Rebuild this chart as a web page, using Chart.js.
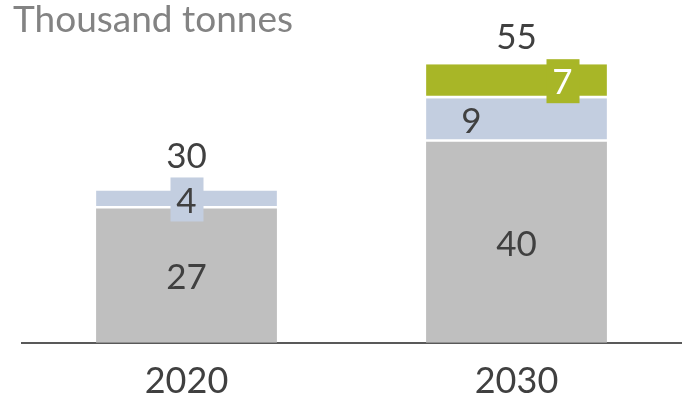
<!DOCTYPE html>
<html>
<head>
<meta charset="utf-8">
<script src="https://cdn.jsdelivr.net/npm/chart.js@4/dist/chart.umd.min.js"></script>
<style>
  body { margin: 0; background: #fff; }
  #wrap { width: 690px; height: 400px; position: relative; }
</style>
</head>
<body>
<div id="wrap"><canvas id="chart-tonnes-bar"></canvas></div>
<script>
// values
const years = ['2020', '2030'];
const baseValues = [26.8, 40.1];
const addedValues = [3.6, 8.7];
const newValues = [null, 6.8];
const totalLabels = [30, 55];
const unitTitle = 'Thousand tonnes';

const textColor = '#404040';
const fontFamily = 'Lato, "DejaVu Sans", sans-serif';

// where each segment label goes (x shift from bar centre) and whether it gets a box
const labelStyle = {
    0: { shift: [0, 0], color: textColor, box: false },
    1: { shift: [0, -45], color: textColor, box: [true, false] },
    2: { shift: [0, 46], color: '#ffffff', box: [false, true] }
};
// gap between stack top and total label
const totalGap = [34, 26];

const labelPlugin = {
    id: 'segmentLabels',
    afterDatasetsDraw(chart) {
        const c = chart.ctx;
        c.save();
        c.font = '35px ' + fontFamily;
        c.textAlign = 'center';
        c.textBaseline = 'middle';

        chart.data.datasets.forEach((ds, di) => {
            const meta = chart.getDatasetMeta(di);
            meta.data.forEach((bar, i) => {
                const v = ds.data[i];
                if (v == null) return;
                const st = labelStyle[di];
                const x = bar.x + st.shift[i];
                const y = (bar.y + bar.base) / 2;
                if (st.box && st.box[i]) {
                    c.fillStyle = ds.backgroundColor;
                    c.fillRect(x - 16, y - 22, 33, 44);
                }
                c.fillStyle = st.color;
                c.fillText(String(Math.round(v)), x, y + 2);
            });
        });

        // totals above the stacks
        years.forEach((yr, i) => {
            let minY = Infinity;
            chart.data.datasets.forEach((ds, di) => {
                const b = chart.getDatasetMeta(di).data[i];
                if (ds.data[i] != null && b.y < minY) minY = b.y;
            });
            c.fillStyle = textColor;
            c.fillText(String(totalLabels[i]), chart.getDatasetMeta(0).data[i].x, minY - totalGap[i]);
        });

        // unit title
        c.font = '37px ' + fontFamily;
        c.fillStyle = '#838383';
        c.textAlign = 'left';
        c.textBaseline = 'alphabetic';
        c.fillText(unitTitle, 13, 32);
        c.restore();
    }
};

const ctx = document.getElementById('chart-tonnes-bar').getContext('2d');

new Chart(ctx, {
    type: 'bar',
    data: {
        labels: years,
        datasets: [
            {
                label: 'Base',
                data: baseValues,
                backgroundColor: '#bfbfbf',
                borderWidth: 0
            },
            {
                label: 'Added',
                data: addedValues,
                backgroundColor: '#c3cee0',
                borderColor: '#ffffff',
                borderWidth: { top: 0, left: 0, right: 0, bottom: 2.5 },
                borderSkipped: false
            },
            {
                label: 'New',
                data: newValues,
                backgroundColor: '#a8b627',
                borderColor: '#ffffff',
                borderWidth: { top: 0, left: 0, right: 0, bottom: 2.5 },
                borderSkipped: false
            }
        ]
    },
    plugins: [labelPlugin],
    options: {
        responsive: true,
        maintainAspectRatio: false,
        animation: false,
        layout: { padding: { left: 21.5, right: 8.5, top: 0, bottom: -20 } },
        datasets: {
            bar: { barPercentage: 0.548, categoryPercentage: 1 }
        },
        plugins: {
            legend: { display: false },
            tooltip: { enabled: false }
        },
        scales: {
            x: {
                stacked: true,
                grid: { display: false, drawTicks: false },
                border: { display: true, color: '#595959', width: 2 },
                ticks: {
                    color: textColor,
                    padding: 17,
                    font: { family: fontFamily, size: 36 }
                }
            },
            y: {
                stacked: true,
                display: false,
                min: 0,
                max: 68.4
            }
        }
    }
});
</script>
</body>
</html>
